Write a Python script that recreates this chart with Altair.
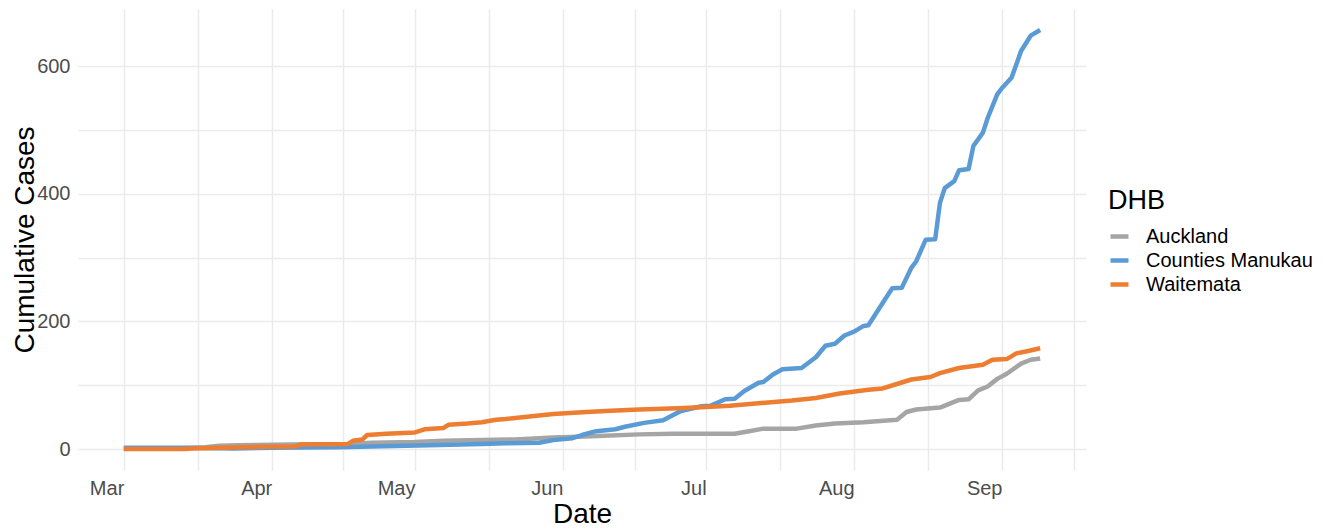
import altair as alt
import pandas as pd

# ---- data ----
series_names = ["Auckland", "Counties Manukau", "Waitemata"]
series_colors = ["#A5A5A5", "#5B9BD5", "#ED7D31"]

auckland_dates = ["2021-03-01", "2021-03-13", "2021-03-18", "2021-03-21", "2021-03-25", "2021-04-05",
                  "2021-04-17", "2021-04-22", "2021-05-01", "2021-05-07", "2021-05-15", "2021-05-22",
                  "2021-05-30", "2021-06-07", "2021-06-17", "2021-06-24", "2021-07-07", "2021-07-10",
                  "2021-07-13", "2021-07-20", "2021-07-24", "2021-07-28", "2021-08-03", "2021-08-10",
                  "2021-08-12", "2021-08-14", "2021-08-19", "2021-08-23", "2021-08-25", "2021-08-27",
                  "2021-08-29", "2021-08-31", "2021-09-02", "2021-09-05", "2021-09-07", "2021-09-09"]
auckland_cases = [1, 1, 3, 5, 6, 7,
                  8, 10, 11, 13, 14, 15,
                  18, 20, 23, 24, 24, 28,
                  32, 32, 37, 40, 42, 46,
                  58, 62, 65, 77, 78, 92,
                  98, 110, 118, 134, 140, 142]

manukau_dates = ["2021-03-01", "2021-03-14", "2021-03-24", "2021-04-01", "2021-04-15", "2021-04-22",
                 "2021-05-04", "2021-05-15", "2021-05-20", "2021-05-27", "2021-05-30", "2021-06-03",
                 "2021-06-05", "2021-06-08", "2021-06-12", "2021-06-14", "2021-06-18", "2021-06-22",
                 "2021-06-25", "2021-06-26", "2021-06-30", "2021-07-02", "2021-07-05", "2021-07-07",
                 "2021-07-09", "2021-07-12", "2021-07-13", "2021-07-15", "2021-07-17", "2021-07-21",
                 "2021-07-24", "2021-07-26", "2021-07-28", "2021-07-30", "2021-08-01", "2021-08-03",
                 "2021-08-04", "2021-08-07", "2021-08-09", "2021-08-11", "2021-08-13", "2021-08-14",
                 "2021-08-16", "2021-08-18", "2021-08-19", "2021-08-20", "2021-08-22", "2021-08-23",
                 "2021-08-25", "2021-08-26", "2021-08-28", "2021-08-29", "2021-08-31", "2021-09-01",
                 "2021-09-03", "2021-09-04", "2021-09-05", "2021-09-07", "2021-09-09"]
manukau_cases = [2, 2, 1, 2, 3, 4,
                 6, 8, 9, 10, 14, 17,
                 22, 28, 31, 35, 41, 45,
                 57, 60, 67, 68, 78, 79,
                 91, 104, 105, 117, 125, 127,
                 144, 162, 165, 178, 184, 193,
                 194, 229, 252, 253, 284, 294,
                 328, 329, 386, 409, 420, 437,
                 439, 475, 496, 519, 556, 566,
                 582, 603, 624, 648, 657]

waitemata_dates = ["2021-03-01", "2021-03-14", "2021-03-15", "2021-03-24", "2021-03-30", "2021-04-06",
                   "2021-04-07", "2021-04-17", "2021-04-18", "2021-04-20", "2021-04-21", "2021-04-25",
                   "2021-05-01", "2021-05-03", "2021-05-07", "2021-05-08", "2021-05-12", "2021-05-15",
                   "2021-05-18", "2021-05-20", "2021-05-25", "2021-05-30", "2021-06-06", "2021-06-11",
                   "2021-06-17", "2021-06-25", "2021-07-01", "2021-07-06", "2021-07-14", "2021-07-19",
                   "2021-07-24", "2021-07-29", "2021-08-04", "2021-08-07", "2021-08-10", "2021-08-13",
                   "2021-08-17", "2021-08-19", "2021-08-23", "2021-08-28", "2021-08-30", "2021-09-02",
                   "2021-09-04", "2021-09-06", "2021-09-09"]
waitemata_cases = [0, 0, 1, 2.5, 3.5, 4,
                   7, 8, 13, 15, 22, 24,
                   26, 31, 33, 38, 40, 42,
                   46, 47, 51, 55, 58, 60,
                   62, 64, 66, 68, 73, 76,
                   80, 87, 93, 95, 102, 109,
                   113, 119, 127, 132, 140, 141,
                   150, 153, 158]

month_starts = ["2021-03-01", "2021-04-01", "2021-05-01", "2021-06-01", "2021-07-01", "2021-08-01", "2021-09-01"]
mid_months = ["2021-03-16T12:00", "2021-04-16T00:00", "2021-05-16T12:00", "2021-06-16T00:00",
              "2021-07-16T12:00", "2021-08-16T12:00", "2021-09-16T00:00"]
y_major = [0, 200, 400, 600]
y_minor = [100, 300, 500]

# ---- table ----
frames = []
for name, d, v in [("Auckland", auckland_dates, auckland_cases),
                   ("Counties Manukau", manukau_dates, manukau_cases),
                   ("Waitemata", waitemata_dates, waitemata_cases)]:
    frames.append(pd.DataFrame({"Date": pd.to_datetime(d), "Cases": v, "DHB": name}))
df = pd.concat(frames, ignore_index=True)
df["order"] = df["DHB"].map({n: i for i, n in enumerate(series_names)})


def dt(ts):
    ts = pd.Timestamp(ts)
    return alt.DateTime(year=ts.year, month=ts.month, date=ts.day, hours=ts.hour, minutes=ts.minute)


# ggplot-like 5% expansion
dmin, dmax = df["Date"].min(), df["Date"].max()
span = dmax - dmin
x_domain = [dt(dmin - 0.05 * span), dt(dmax + 0.05 * span)]
cmin, cmax = df["Cases"].min(), df["Cases"].max()
cspan = cmax - cmin
y_domain = [cmin - 0.05 * cspan, cmax + 0.05 * cspan]

x_values = sorted([pd.Timestamp(s) for s in month_starts + mid_months])
x_values = [dt(t) for t in x_values]

FONT = "Liberation Sans"

chart = alt.Chart(df).mark_line(strokeWidth=4.5, strokeCap="butt", strokeJoin="round").encode(
    x=alt.X("Date:T",
            scale=alt.Scale(domain=x_domain),
            axis=alt.Axis(values=x_values, format="%b",
                          labelExpr="date(datum.value) == 1 ? datum.label : ''",
                          labelAlign="right", labelBaseline="alphabetic", labelPadding=24,
                          labelOverlap=False, labelFlush=False,
                          ticks=False, tickSize=0, domain=False,
                          grid=True, gridColor="#EBEBEB", gridWidth=1.5,
                          labelFont=FONT, labelFontSize=20, labelColor="#4D4D4D",
                          title="Date", titleFont=FONT, titleFontSize=28, titleFontWeight="normal",
                          titleColor="#000000", titleY=52, titleBaseline="alphabetic")),
    y=alt.Y("Cases:Q",
            scale=alt.Scale(domain=y_domain, nice=False, zero=False),
            axis=alt.Axis(values=sorted(y_major + y_minor),
                          labelExpr="datum.value % 200 == 0 ? datum.label : ''",
                          labelPadding=8, labelOverlap=False, labelFlush=False,
                          ticks=False, tickSize=0, domain=False,
                          grid=True, gridColor="#EBEBEB", gridWidth=1.5,
                          labelFont=FONT, labelFontSize=20, labelColor="#4D4D4D",
                          title="Cumulative Cases", titleFont=FONT, titleFontSize=28,
                          titleFontWeight="normal", titleColor="#000000",
                          titleX=-53, titleBaseline="middle")),
    color=alt.Color("DHB:N",
                    scale=alt.Scale(domain=series_names, range=series_colors),
                    legend=alt.Legend(title="DHB", orient="none", legendX=1030, legendY=179,
                                      symbolType="stroke", symbolSize=324, symbolStrokeWidth=4.5,
                                      labelFont=FONT, labelFontSize=20, labelColor="#000000",
                                      labelLimit=0, labelOffset=15, rowPadding=2, padding=0,
                                      titleFont=FONT, titleFontSize=27, titleFontWeight="normal",
                                      titleColor="#000000", titlePadding=10)),
    order=alt.Order("order:Q"),
    detail="DHB:N",
).properties(
    width=1008, height=461,
    background="white",
    autosize=alt.AutoSizeParams(type="none"),
    padding={"left": 70, "top": 1, "right": 230, "bottom": 58},
).configure_view(strokeWidth=0)

chart.save("out.html", embed_options={"renderer": "svg", "actions": False})
